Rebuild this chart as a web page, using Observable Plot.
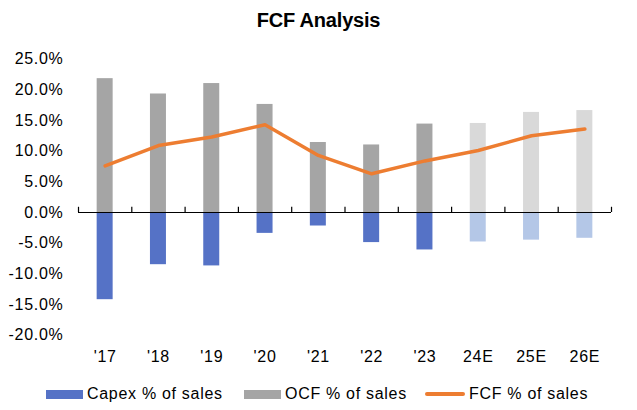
<!DOCTYPE html>
<html>
<head>
<meta charset="utf-8">
<script src="https://cdn.jsdelivr.net/npm/d3@7"></script>
<script src="https://cdn.jsdelivr.net/npm/@observablehq/plot@0.6"></script>
<style>
  html, body { margin: 0; padding: 0; background: #fff; }
  body { width: 637px; height: 410px; position: relative; overflow: hidden;
         font-family: "Liberation Sans", Arial, sans-serif; color: #000; }
  #title { height: 36px; line-height: 36px; text-align: center; font-weight: bold;
           font-size: 20px; letter-spacing: -0.2px; position: relative; top: 2.4px; }
  #legend { position: absolute; top: 376px; left: 0; width: 637px; height: 36px; }
  .item { position: absolute; top: 0; height: 36px; display: flex; align-items: center;
          font-size: 16px; letter-spacing: 0.7px; }
  .sw { width: 37px; height: 9px; margin-right: 4px; }
  .ln { width: 40px; height: 3.5px; border-radius: 2px; margin-right: 4px; }
</style>
</head>
<body>
<div id="title">FCF Analysis</div>
<div id="chart"></div>
<div id="legend">
  <div class="item" style="left:46px"><div class="sw" style="background:#5572c6"></div>Capex % of sales</div>
  <div class="item" style="left:244px"><div class="sw" style="background:#a5a5a5"></div>OCF % of sales</div>
  <div class="item" style="left:425px"><div class="ln" style="background:#ed7d31"></div>FCF % of sales</div>
</div>
<script>
const categories = ["'17", "'18", "'19", "'20", "'21", "'22", "'23", "24E", "25E", "26E"];
const isEstimate = [false, false, false, false, false, false, false, true, true, true];
const capex = [-14.2, -8.5, -8.7, -3.4, -2.2, -4.9, -6.1, -4.8, -4.5, -4.2];
const ocf   = [21.8, 19.3, 21.0, 17.6, 11.4, 11.0, 14.4, 14.5, 16.3, 16.6];
const fcf   = [7.6, 10.9, 12.3, 14.3, 9.3, 6.3, 8.4, 10.1, 12.5, 13.6];
const yTicks = [-20, -15, -10, -5, 0, 5, 10, 15, 20, 25];

const rows = categories.map((c, i) => ({i, c, est: isEstimate[i], capex: capex[i], ocf: ocf[i], fcf: fcf[i]}));
const bounds = d3.range(categories.length + 1).map(k => k - 0.5);
const half = 0.15;

const chart = Plot.plot({
  width: 637,
  height: 340,
  marginTop: 22.5,
  marginBottom: 41.2,
  marginLeft: 78,
  marginRight: 26,
  style: {fontFamily: "Liberation Sans, Arial, sans-serif", fontSize: "16px", letterSpacing: "0.7px", color: "#000", background: "#fff"},
  x: {type: "linear", domain: [-0.5, categories.length - 0.5], label: null},
  y: {domain: [-20, 25], label: null},
  marks: [
    Plot.rectY(rows, {x1: d => d.i - half, x2: d => d.i + half, y1: 0, y2: "ocf",
      fill: d => d.est ? "#d9d9d9" : "#a5a5a5"}),
    Plot.rectY(rows, {x1: d => d.i - half, x2: d => d.i + half, y1: 0, y2: "capex",
      fill: d => d.est ? "#b4c7e7" : "#5572c6"}),
    Plot.ruleY([0], {stroke: "#000", strokeWidth: 1.2}),
    Plot.ruleX(bounds, {x: d => d, y1: 0, y2: 0.85, stroke: "#000", strokeWidth: 1.2}),
    Plot.line(rows, {x: "i", y: "fcf", stroke: "#ed7d31", strokeWidth: 3.5,
      strokeLinecap: "round", strokeLinejoin: "round"}),
    Plot.axisY({ticks: yTicks, tickFormat: d => d.toFixed(1) + "%", tickSize: 0, tickPadding: 15, fontSize: 16, label: null}),
    Plot.axisX({ticks: d3.range(categories.length), tickFormat: i => categories[i], tickSize: 0, tickPadding: 15, fontSize: 16, label: null})
  ]
});
document.getElementById("chart").appendChild(chart);
</script>
</body>
</html>
